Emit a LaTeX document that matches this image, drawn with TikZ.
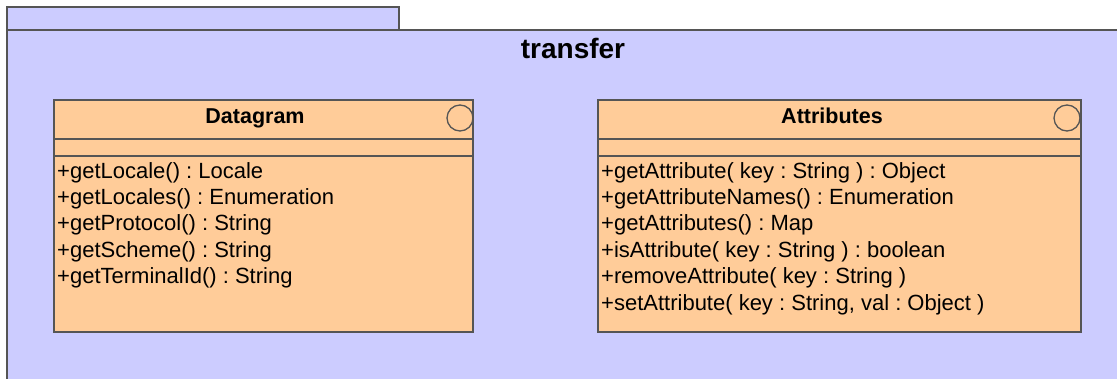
\documentclass[tikz,border=0pt]{standalone}
\usepackage{fontspec}
\setmainfont{Liberation Sans}
\frenchspacing
\definecolor{pkgfill}{HTML}{CCCCFF}
\definecolor{clsfill}{HTML}{FFCC99}
\definecolor{edge}{HTML}{555555}
\begin{document}
\begin{tikzpicture}[x=1bp,y=-1bp,
  pkgbox/.style={draw=edge,fill=pkgfill,line width=1.4bp},
  clsbox/.style={draw=edge,fill=clsfill,line width=1.4bp},
  sepline/.style={draw=edge,line width=1.4bp},
  stereo/.style={circle,draw=edge,line width=1.3bp,minimum size=26bp,inner sep=0pt},
  title/.style={font=\fontsize{28bp}{32bp}\selectfont\bfseries\frenchspacing,inner sep=0pt,anchor=base},
  cname/.style={font=\fontsize{21.5bp}{25bp}\selectfont\bfseries\frenchspacing,inner sep=0pt,anchor=base},
  op/.style={font=\fontsize{22bp}{26bp}\selectfont\frenchspacing,inner sep=0pt,anchor=base west}]
\useasboundingbox (0,0) rectangle (1117,378);
\clip (0,0) rectangle (1117,378);
% package
\draw[pkgbox] (7,7) rectangle (399,30);
\draw[pkgbox] (7,30) rectangle (1130,395);
\node[title] (pkg) at (573,58) {transfer};
% Datagram
\draw[clsbox] (54,100) rectangle (473,332);
\coordinate (dl1) at (54,139); \coordinate (dr1) at (473,139);
\coordinate (dl2) at (54,156); \coordinate (dr2) at (473,156);
\draw[sepline] (dl1) -- (dr1);
\draw[sepline] (dl2) -- (dr2);
\node[stereo] (dcirc) at (460,118) {};
\node[cname] (dname) at (255,123) {Datagram};
\node[op] (d1) at (57,178) {+getLocale() : Locale};
\node[op] (d2) at (57,204.4) {+getLocales() : Enumeration};
\node[op] (d3) at (57,230.8) {+getProtocol() : String};
\node[op] (d4) at (57,257.2) {+getScheme() : String};
\node[op] (d5) at (57,283.6) {+getTerminalId() : String};
% Attributes
\draw[clsbox] (598,100) rectangle (1081,332);
\coordinate (al1) at (598,139); \coordinate (ar1) at (1081,139);
\coordinate (al2) at (598,156); \coordinate (ar2) at (1081,156);
\draw[sepline] (al1) -- (ar1);
\draw[sepline] (al2) -- (ar2);
\node[stereo] (acirc) at (1067,118) {};
\node[cname] (aname) at (832,123) {Attributes};
\node[op] (a1) at (601,178) {+getAttribute( key : String ) : Object};
\node[op] (a2) at (601,204.4) {+getAttributeNames() : Enumeration};
\node[op] (a3) at (601,230.8) {+getAttributes() : Map};
\node[op] (a4) at (601,257.2) {+isAttribute( key : String ) : boolean};
\node[op] (a5) at (601,283.6) {+removeAttribute( key : String )};
\node[op] (a6) at (601,310) {+setAttribute( key : String, val : Object )};
\end{tikzpicture}
\end{document}
